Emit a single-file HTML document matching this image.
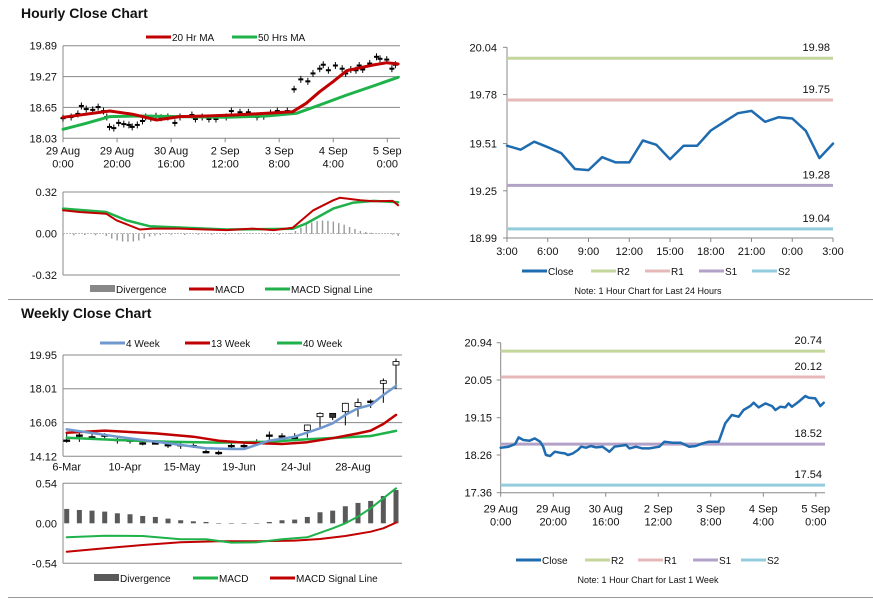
<!DOCTYPE html>
<html><head><meta charset="utf-8">
<style>
body{margin:0;background:#fff;}
svg{display:block;font-family:"Liberation Sans",Arial,sans-serif;}
.t{font-size:11px;fill:#111;}
.s{font-size:10px;fill:#111;}
.n{font-size:9px;fill:#111;}
.h{font-size:14px;font-weight:bold;fill:#111;}
</style></head>
<body>
<svg id="c" width="873" height="601" viewBox="0 0 873 601">
<rect width="873" height="601" fill="#fff"/>
<text class="h" x="21" y="18">Hourly Close Chart</text>
<text class="h" x="21" y="318">Weekly Close Chart</text>
<line x1="8" y1="299.5" x2="873" y2="299.5" stroke="#999"/>
<line x1="8" y1="597.5" x2="873" y2="597.5" stroke="#999"/>
<g id="g"></g>
</svg>
<script>
// ---------- Hourly (shared hourly close, index = trading hour) ----------
const hX=[0,3,5.5,6.8,8.6,11,13,15,16.2,17.2,18.8,20.6,22.5,24.4,25.6,27.5,29.4,30.6,32.5,34.4,36.3,38.8,41.4,43.3,47.7,49,51.5,54,56.6,60.4,62.3,65.5,68.6,71.8,74.3,76.8,79.3,83,85.5,88,90.6,92.5,95,96.3,98.2,100.8,103.3,104.6,106.5,108.4,109.6,110.9,113.5,116,117.3,119.8,121.7,123];
const hClose=[18.434,18.458,18.52,18.68,18.617,18.601,18.657,18.577,18.458,18.259,18.235,18.339,18.315,18.299,18.259,18.299,18.378,18.458,18.434,18.474,18.442,18.458,18.339,18.458,18.498,18.418,18.458,18.418,18.418,18.458,18.577,18.553,18.553,18.458,18.474,18.537,18.577,18.577,19.015,19.214,19.174,19.333,19.428,19.508,19.397,19.492,19.428,19.333,19.413,19.397,19.492,19.413,19.532,19.667,19.627,19.611,19.428,19.508];
const ma20X=[0,17.3,25.9,34.6,43.2,53,63,75.3,85,90,95,100,105,110,114.8,119.8,124];
const ma20=[18.452,18.579,18.512,18.398,18.465,18.478,18.498,18.532,18.565,18.733,18.967,19.168,19.388,19.449,19.502,19.549,19.522];
const ma50X=[0,8.6,17.3,28.4,43.2,60.5,75.3,86.4,95,105,114.8,124];
const ma50=[18.211,18.331,18.465,18.478,18.465,18.452,18.478,18.532,18.699,18.9,19.081,19.255];
const hTickPos=[0,20,40,60,80,100,120];
const hTickA=["29 Aug","29 Aug","30 Aug","2 Sep","3 Sep","4 Sep","5 Sep"];
const hTickB=["0:00","20:00","16:00","12:00","8:00","4:00","0:00"];
const hYTicks=[19.89,19.27,18.65,18.03];
const hmX=[0,6,16,19.8,28.4,33,43,53,60.5,70,78,85,92.6,100,102.5,110,115,122,124];
const hMacd=[0.179,0.166,0.153,0.102,0.031,0.038,0.038,0.031,0.026,0.038,0.026,0.044,0.179,0.256,0.276,0.256,0.248,0.251,0.218];
const hsX=[0,16,23.5,32,43,60.5,85,90,100,107.5,115,124];
const hSignal=[0.192,0.166,0.102,0.056,0.046,0.031,0.036,0.077,0.192,0.238,0.251,0.241];
const hdX=[0,4,8,12,16,18,20,22,24,26,28,30,32,34,36,40,45,50,55,60,65,70,75,80,84,86,88,90,92,94,96,98,100,102,104,106,108,110,112,114,116,118,120,122,124];
const hDiv=[-0.01,-0.01,-0.008,-0.01,-0.015,-0.035,-0.05,-0.058,-0.06,-0.058,-0.05,-0.035,-0.02,-0.012,-0.008,-0.006,-0.008,-0.006,-0.006,-0.005,-0.003,0,-0.003,-0.006,0.004,0.02,0.045,0.07,0.085,0.095,0.1,0.098,0.092,0.08,0.068,0.05,0.035,0.02,0.012,0.006,0.003,0.002,0.001,-0.005,-0.015];
const hmTicks=[0.32,0,-0.32];
// ---------- 24h pivot chart ----------
const dClose=[19.498,19.476,19.52,19.49,19.457,19.37,19.364,19.435,19.406,19.406,19.527,19.503,19.424,19.498,19.498,19.582,19.63,19.677,19.69,19.63,19.655,19.648,19.58,19.43,19.51];
const dLabels=["3:00","6:00","9:00","12:00","15:00","18:00","21:00","0:00","3:00"];
const dYTicks=[20.04,19.78,19.51,19.25,18.99];
const dLevels=[19.98,19.75,19.28,19.04];
// ---------- Weekly pivot chart ----------
const wkLevels=[20.74,20.12,18.52,17.54];
const wkYTicks=[20.94,20.05,19.15,18.26,17.36];
// ---------- Weekly candles ----------
const wOpen=[15.06,15.3,15.25,15.35,15.1,15.06,14.9,14.9,14.8,14.8,14.75,14.4,14.33,14.73,14.75,14.96,15.35,15.3,15.21,15.6,16.4,16.59,16.69,16.98,17.3,18.32,19.37];
const wClose=[15.06,15.35,15.25,15.3,15.06,15.06,14.87,14.87,14.77,14.77,14.73,14.39,14.35,14.75,14.73,14.96,15.35,15.3,15.21,15.92,16.59,16.36,17.17,17.21,17.25,18.47,19.57];
const wHigh=[15.5,15.5,15.4,15.45,15.2,15.2,15.0,15.0,14.95,15.0,14.85,14.5,14.45,14.9,14.95,15.1,15.55,15.45,15.45,15.95,16.65,16.6,17.2,17.45,17.4,18.6,19.75];
const wLow=[14.9,14.95,15.1,15.15,14.85,14.85,14.75,14.8,14.6,14.55,14.6,14.3,14.2,14.5,14.6,14.8,15.05,15.1,15.0,15.2,15.8,16.2,15.9,16.4,16.9,17.2,18.0];
const w4X=[0,4,8,11,13,14,16,18,20,21,22,23,24,25,26];
const w4=[15.67,15.25,14.87,14.58,14.54,14.54,15.02,15.25,15.73,16.02,16.5,16.88,17.07,17.65,18.17];
const w13X=[0,3,7,10,12,14,17,19,21,23,24,25,26];
const w13=[15.48,15.6,15.44,15.25,15.02,14.91,14.83,14.93,15.16,15.44,15.6,15.98,16.5];
const w40X=[0,4,8,12,16,19,22,24,26];
const w40=[15.19,15.06,14.96,14.91,14.96,15.1,15.21,15.29,15.58];
const wTickPos=[0,4.6,9.1,13.6,18.1,22.6];
const wTicks=["6-Mar","10-Apr","15-May","19-Jun","24-Jul","28-Aug"];
const wYTicks=[19.95,18.01,16.06,14.12];
const wDiv=[0.194,0.18,0.171,0.158,0.135,0.122,0.099,0.086,0.063,0.041,0.027,0.018,0,-0.005,-0.005,0,0.018,0.041,0.05,0.086,0.149,0.171,0.23,0.275,0.302,0.369,0.45];
const wmX=[0,3,6,9,11,13,15,17,19,21,22,23,24,25,26];
const wMacd=[-0.189,-0.167,-0.171,-0.216,-0.216,-0.261,-0.257,-0.216,-0.189,-0.068,0,0.09,0.203,0.338,0.473];
const wsX=[0,3,6,9,12,15,18,20,22,24,25,26];
const wSignal=[-0.383,-0.338,-0.293,-0.257,-0.243,-0.243,-0.234,-0.212,-0.171,-0.113,-0.068,0.009];
const wmTicks=[0.54,0,-0.54];

const NS="http://www.w3.org/2000/svg";
const G=document.getElementById('g');
function el(tag,attrs,txt){const e=document.createElementNS(NS,tag);for(const k in attrs)e.setAttribute(k,attrs[k]);if(txt!=null)e.textContent=txt;G.appendChild(e);return e;}
function lin(d0,d1,r0,r1){return v=>r0+(v-d0)/(d1-d0)*(r1-r0);}
function path(xs,ys,sx,sy,color,w,name){
  let d=xs.map((x,i)=>(i?'L':'M')+sx(x).toFixed(1)+','+sy(ys[i]).toFixed(1)).join('');
  const p=el('path',{d:d,fill:'none',stroke:color,'stroke-width':w,'stroke-linejoin':'round','stroke-linecap':'round'});
  
  
}
function grid(y,x0,x1,name){const l=el('line',{x1:x0,x2:x1,y1:y,y2:y,stroke:'#888','stroke-width':1});
  
  }
function ylabel(x,y,s,name){const t=el('text',{x:x,y:y+4,'text-anchor':'end',class:'t'},s);
  
  }
function axisLines(x0,y0,x1,y1){const a=el('line',{x1:x0,x2:x0,y1:y0,y2:y1,stroke:'#888'});
  
  
  const b=el('line',{x1:x0,x2:x1,y1:y1,y2:y1,stroke:'#888'});
  
  }
function fmt(v){return v.toFixed(2);}
function legend(items,y){items.forEach(it=>{
  let m;
  if(it.box){m=el('rect',{x:it.x,y:y-4,width:25,height:7,fill:it.c});}
  else{m=el('line',{x1:it.x,x2:it.x+25,y1:y,y2:y,stroke:it.c,'stroke-width':it.w||3});}
  
  
  const t=el('text',{x:it.x+26,y:y+4,class:it.cls||'s'},it.t);
  
  
});}

// ===== Hourly candles panel =====
(function(){
  const x0=63,x1=400,yt=45.7,yb=138.3;
  const sx=lin(0,124.7,x0,x1), sy=lin(18.03,19.89,yb,yt);
  hYTicks.forEach(v=>{ if(v>18.03&&v<19.89) grid(sy(v),x0,x1,'hourly-gridline'); ylabel(57,sy(v),fmt(v),'hourly-y-tick');});
  grid(yt,x0,x1,'hourly-gridline');
  axisLines(x0,yt,x1,yb);
  hTickPos.forEach((p,i)=>{const x=sx(p);
    const k=el('line',{x1:x,x2:x,y1:yb,y2:yb+4,stroke:'#888'});
    
    
    const t=el('text',{x:x,y:yb+16,'text-anchor':'middle',class:'t'},hTickA[i]);
    
    
    const t2=el('text',{x:x,y:yb+29,'text-anchor':'middle',class:'t'},hTickB[i]);
    
    });
  hClose.forEach((v,i)=>{const x=sx(hX[i]);
    const c=el('line',{x1:x,x2:x,y1:sy(v+0.07),y2:sy(v-0.07),stroke:'#000','stroke-width':1});
    
    
    const b=el('rect',{x:x-2.5,y:sy(v)-1,width:5,height:2,fill:'#000'});
    
    });
  path(ma50X,ma50,sx,sy,'#1fb24a',3,'ma-50-line');
  path(ma20X,ma20,sx,sy,'#c00000',3,'ma-20-line');
  legend([{x:146,c:'#c00000',t:'20 Hr MA'},{x:232,c:'#1fb24a',t:'50 Hrs MA'}],37);
})();
// ===== Hourly MACD =====
(function(){
  const x0=63,x1=400,yt=192,yb=275;
  const sx=lin(0,124.7,x0,x1), sy=lin(-0.32,0.32,yb,yt);
  hmTicks.forEach(v=>{ylabel(57,sy(v),fmt(v),'hourly-macd-y-tick');});
  grid(yt,x0,x1,'macd-gridline');
  axisLines(x0,yt,x1,yb);
  const z=sy(0);
  hDiv.forEach((v,i)=>{const x=sx(hdX[i]);
    const b=el('rect',{x:x-0.6,y:Math.min(z,sy(v)),width:1.4,height:Math.abs(sy(v)-z)+0.5,fill:'#999'});
    
    });
  const zl=el('line',{x1:x0,x2:x1,y1:z,y2:z,stroke:'#bbb','stroke-dasharray':'2,1'});
  
  
  path(hsX,hSignal,sx,sy,'#1fb24a',2.5,'hourly-macd-signal-line');
  path(hmX,hMacd,sx,sy,'#c00000',2,'hourly-macd-line');
  legend([{x:90,c:'#888',t:'Divergence',box:1},{x:189,c:'#c00000',t:'MACD'},{x:265,c:'#1fb24a',t:'MACD Signal Line'}],289);
})();
// ===== 24h pivot =====
(function(){
  const x0=507,x1=833,yt=47.3,yb=238;
  const sx=lin(0,24,x0,x1), sy=lin(18.99,20.04,yb,yt);
  dYTicks.forEach(v=>{ylabel(497,sy(v),fmt(v),'daily-y-tick');
    const k=el('line',{x1:x0-4,x2:x0,y1:sy(v),y2:sy(v),stroke:'#888'});
    
    });
  axisLines(x0,yt,x1,yb);
  dLabels.forEach((s,i)=>{const x=sx(i*3);
    const k=el('line',{x1:x,x2:x,y1:yb,y2:yb+4,stroke:'#888'});
    
    
    const t=el('text',{x:x,y:yb+17,'text-anchor':'middle',class:'t'},s);
    
    });
  const cols=['#c3d69b','#e6b9b8','#b3a2c7','#93cddd'];
  const nm=['r2','r1','s1','s2'];
  dLevels.forEach((v,i)=>{const y=sy(v);
    const l=el('line',{x1:x0,x2:x1,y1:y,y2:y,stroke:cols[i],'stroke-width':3});
    
    
    const t=el('text',{x:x1-3,y:y-7,'text-anchor':'end',class:'t'},fmt(v));
    
    });
  path(dClose.map((v,i)=>i),dClose,sx,sy,'#1f6bb0',2.5,'daily-close-line');
  legend([{x:522,c:'#1f6bb0',t:'Close'},{x:591,c:'#c3d69b',t:'R2'},{x:645,c:'#e6b9b8',t:'R1'},{x:699,c:'#b3a2c7',t:'S1'},{x:752,c:'#93cddd',t:'S2'}],271);
  const n=el('text',{x:648,y:294,'text-anchor':'middle',class:'n'},'Note: 1 Hour Chart for Last 24 Hours');
  
  
})();
// ===== 1-week pivot =====
(function(){
  const x0=500.7,x1=825,yt=342.7,yb=492.7;
  const sx=lin(0,123.5,x0,x1), sy=lin(17.36,20.94,yb,yt);
  wkYTicks.forEach(v=>{ylabel(492,sy(v),fmt(v),'week-y-tick');
    const k=el('line',{x1:x0-4,x2:x0,y1:sy(v),y2:sy(v),stroke:'#888'});
    
    });
  axisLines(x0,yt,x1,yb);
  hTickPos.forEach((p,i)=>{const x=sx(p);
    const k=el('line',{x1:x,x2:x,y1:yb,y2:yb+4,stroke:'#888'});
    
    
    const t=el('text',{x:x,y:yb+20,'text-anchor':'middle',class:'t'},hTickA[i]);
    
    
    const t2=el('text',{x:x,y:yb+33,'text-anchor':'middle',class:'t'},hTickB[i]);
    
    });
  const cols=['#c3d69b','#e6b9b8','#b3a2c7','#93cddd'];
  const nm=['r2','r1','s1','s2'];
  wkLevels.forEach((v,i)=>{const y=sy(v);
    const l=el('line',{x1:x0,x2:x1,y1:y,y2:y,stroke:cols[i],'stroke-width':3});
    
    
    const t=el('text',{x:x1-3,y:y-7,'text-anchor':'end',class:'t'},fmt(v));
    
    });
  path(hX,hClose,sx,sy,'#1f6bb0',2.5,'week-close-line');
  legend([{x:516,c:'#1f6bb0',t:'Close'},{x:585,c:'#c3d69b',t:'R2'},{x:638,c:'#e6b9b8',t:'R1'},{x:693,c:'#b3a2c7',t:'S1'},{x:741,c:'#93cddd',t:'S2'}],560);
  const n=el('text',{x:648,y:583,'text-anchor':'middle',class:'n'},'Note: 1 Hour Chart for Last 1 Week');
  
  
})();
// ===== Weekly candles =====
(function(){
  const x0=63,x1=402,yt=355,yb=456.3;
  const sx=lin(0,26,66.7,396), sy=lin(14.12,19.95,yb,yt);
  wYTicks.forEach(v=>{ if(v>14.12) grid(sy(v),x0,x1,'weekly-gridline'); ylabel(57,sy(v),fmt(v),'weekly-y-tick');});
  axisLines(x0,yt,x1,yb);
  wTicks.forEach((s,i)=>{const x=sx(wTickPos[i]);
    const t=el('text',{x:x,y:yb+14,'text-anchor':'middle',class:'t'},s);
    
    });
  wClose.forEach((c,i)=>{const x=sx(i),o=wOpen[i];
    const w=el('line',{x1:x,x2:x,y1:sy(wHigh[i]),y2:sy(wLow[i]),stroke:'#000'});
    
    
    const top=sy(Math.max(o,c)),h=Math.max(1.5,Math.abs(sy(o)-sy(c)));
    const b=el('rect',{x:x-3,y:top,width:6,height:h,fill:c>=o&&Math.abs(c-o)>0.05?'#fff':(c<o-0.05?'#333':'#000'),stroke:'#000','stroke-width':0.8});
    
    });
  path(w40X,w40,sx,sy,'#1fb24a',2.5,'ma-40-week-line');
  path(w13X,w13,sx,sy,'#c00000',2.5,'ma-13-week-line');
  path(w4X,w4,sx,sy,'#6f98cf',2.5,'ma-4-week-line');
  legend([{x:100,c:'#6f98cf',t:'4 Week'},{x:185,c:'#c00000',t:'13 Week'},{x:277,c:'#1fb24a',t:'40 Week'}],343);
})();
// ===== Weekly MACD =====
(function(){
  const x0=63,x1=402,yt=483.3,yb=563.3;
  const sx=lin(0,26,66.7,396), sy=lin(-0.54,0.54,yb,yt);
  wmTicks.forEach(v=>{ylabel(57,sy(v),fmt(v),'weekly-macd-y-tick');});
  grid(yt,x0,x1,'weekly-macd-gridline');
  axisLines(x0,yt,x1,yb);
  const z=sy(0);
  wDiv.forEach((v,i)=>{const x=sx(i);
    const b=el('rect',{x:x-2.5,y:Math.min(z,sy(v)),width:5,height:Math.max(0.5,Math.abs(sy(v)-z)),fill:'#595959'});
    
    });
  path(wsX,wSignal,sx,sy,'#c00000',2,'weekly-macd-signal-line');
  path(wmX,wMacd,sx,sy,'#1fb24a',2,'weekly-macd-line');
  legend([{x:94,c:'#595959',t:'Divergence',box:1},{x:193,c:'#1fb24a',t:'MACD'},{x:270,c:'#c00000',t:'MACD Signal Line'}],578);
})();
</script>
</body></html>
